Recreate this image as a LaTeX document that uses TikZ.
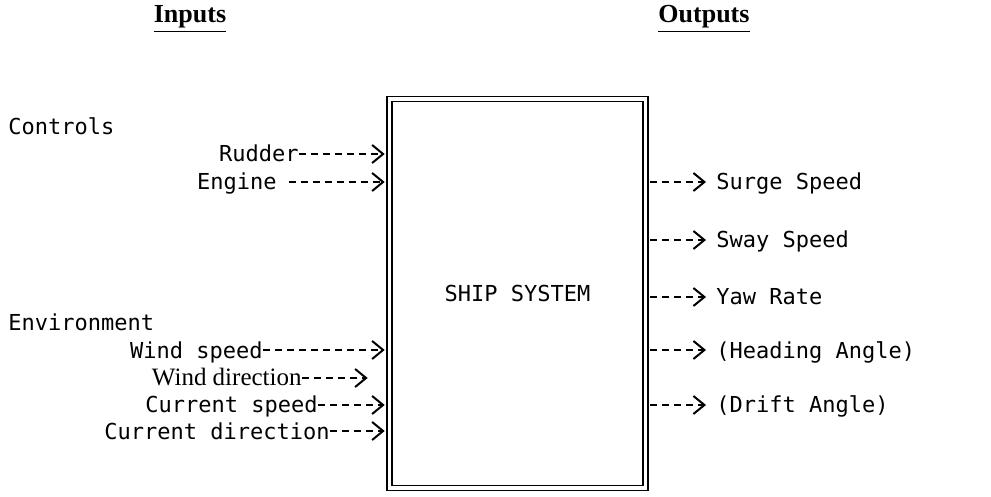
\documentclass[tikz,border=0pt]{standalone}
\usepackage{fontspec}
\setmainfont{DejaVu Sans Mono}
\newfontfamily\headfont{Liberation Serif}
\usetikzlibrary{arrows.meta}

\tikzset{
  lbl/.style={inner sep=0pt, font=\fontsize{11}{13}\selectfont, text height=8pt, text depth=0pt},
  feed/.style={dash pattern=on 3.5pt off 2.5pt, line width=0.9pt,
    -{Straight Barb[length=5.5pt,width=9pt,line width=1pt]}},
}

\begin{document}
\begin{tikzpicture}[x=0.5pt,y=-0.5pt]
    \useasboundingbox (0,0) rectangle (991,497);

    % Headings
    \node[font=\headfont\bfseries\fontsize{13}{15}\selectfont] (inputs) at (190,19) {\underline{Inputs}};
    \node[font=\headfont\bfseries\fontsize{13}{15}\selectfont] (outputs) at (704,19) {\underline{Outputs}};

    % The system block
    \node[draw, double, double distance=1.7pt, line width=0.8pt, minimum width=128pt, minimum height=194.5pt,
          font=\fontsize{11}{13}\selectfont] (ship) at (517.5,293.5) {SHIP SYSTEM};

    % Input groups
    \node[lbl, anchor=west] (controls) at (8,127) {Controls};
    \node[lbl, anchor=west] (environment) at (8,323) {Environment};

    % Inputs
    \node[lbl, anchor=east] (rudder) at (299,154) {Rudder};
    \node[lbl, anchor=east] (engine) at (277,182) {Engine};
    \node[lbl, anchor=east] (windspeed) at (263,350) {Wind speed};
    \node[lbl, anchor=east, font=\headfont\fontsize{12.5}{14}\selectfont] (winddir) at (302,378) {Wind direction};
    \node[lbl, anchor=east] (curspeed) at (318,405) {Current speed};
    \node[lbl, anchor=east] (curdir) at (330,431) {Current direction};

    \draw[feed, shorten >=2pt] (rudder.east) -- (rudder.east -| ship.west);
    \draw[feed, shorten <=6pt, shorten >=2pt] (engine.east) -- (engine.east -| ship.west);
    \draw[feed, shorten >=2pt] (windspeed.east) -- (windspeed.east -| ship.west);
    \draw[feed, shorten >=10.5pt] (winddir.east) -- (winddir.east -| ship.west);
    \draw[feed, shorten >=2pt] (curspeed.east) -- (curspeed.east -| ship.west);
    \draw[feed, shorten >=2pt] (curdir.east) -- (curdir.east -| ship.west);

    % Outputs
    \node[lbl, anchor=west] (surge) at (716,182) {Surge Speed};
    \node[lbl, anchor=west] (sway) at (716,240) {Sway Speed};
    \node[lbl, anchor=west] (yaw) at (716,297) {Yaw Rate};
    \node[lbl, anchor=west] (heading) at (716,350) {(Heading Angle)};
    \node[lbl, anchor=west] (drift) at (716,405) {(Drift Angle)};

    \draw[feed, shorten <=2pt, shorten >=5pt] (surge.west -| ship.east) -- (surge.west);
    \draw[feed, shorten <=2pt, shorten >=5pt] (sway.west -| ship.east) -- (sway.west);
    \draw[feed, shorten <=2pt, shorten >=5pt] (yaw.west -| ship.east) -- (yaw.west);
    \draw[feed, shorten <=2pt, shorten >=5pt] (heading.west -| ship.east) -- (heading.west);
    \draw[feed, shorten <=2pt, shorten >=5pt] (drift.west -| ship.east) -- (drift.west);
\end{tikzpicture}
\end{document}
